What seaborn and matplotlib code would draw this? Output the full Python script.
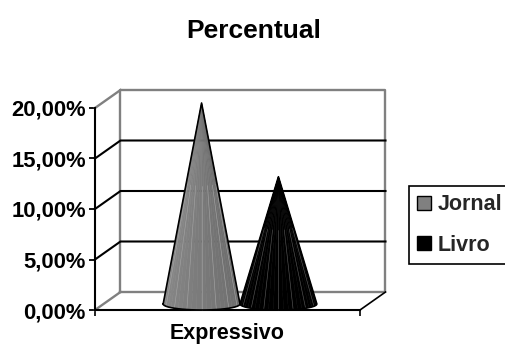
import numpy as np
import pandas as pd
import matplotlib
matplotlib.use("Agg")
import matplotlib.pyplot as plt
from matplotlib.patches import Patch, Polygon
import seaborn as sns

titulo = "Percentual"
categorias = ["Expressivo"]
series = ["Jornal", "Livro"]
valores = [19.9, 12.6]
y_ticks = [0, 5, 10, 15, 20]
cores = ["#808080", "#000000"]

sns.set_theme(style="white")
plt.rcParams["font.family"] = ["Liberation Sans", "DejaVu Sans"]
plt.rcParams["font.weight"] = "bold"

W, H = 506, 345
fig = plt.figure(figsize=(W / 100, H / 100), dpi=100)
ax = fig.add_axes([95 / W, 1 - 310 / H, 265 / W, 202 / H])

df = pd.DataFrame({"categoria": categorias * 2, "serie": series, "valor": valores})
sns.barplot(data=df, x="categoria", y="valor", hue="serie", palette=cores,
            width=0.58, legend=False, ax=ax)
ax.set_xlim(-0.5, 0.5)
ax.set_ylim(0, 20)

# px to data units
px_x = 1 / 265
px_y = 20 / 202
dx = 25.5 * px_x
dy = 18 * px_y
wall = "#808080"


def linha(xs, ys, cor="black", lw=1.5, z=2):
    ax.plot(xs, ys, color=cor, lw=lw, clip_on=False, zorder=z, solid_capstyle="projecting")


# back wall and floor
linha([-0.5 + dx, -0.5 + dx, 0.5 + dx, 0.5 + dx, -0.5 + dx],
      [dy, 20 + dy, 20 + dy, dy, dy], wall, 1.7)
linha([-0.5, -0.5 + dx], [20, 20 + dy], wall, 1.7)
linha([-0.5, -0.5 + dx], [0, dy], wall, 1.7)
linha([0.5, 0.5 + dx], [0, dy], "black", 1.2)
for v in y_ticks[1:-1]:
    linha([-0.5, -0.5 + dx, 0.5 + dx], [v, v + dy, v + dy])


def cone(bar, cor, risco):
    # takes position, width and height from the seaborn bar
    cx = bar.get_x() + bar.get_width() / 2 + 12.5 * px_x
    a = bar.get_width() / 2
    base = 6 * px_y
    b = 6 * px_y
    topo = bar.get_height() + base
    t = np.linspace(np.pi, 2 * np.pi, 25)
    xs = cx + a * np.cos(t)
    ys = base + b * np.sin(t)
    rgb = np.array(matplotlib.colors.to_rgb(cor))
    for i in range(len(t) - 1):
        f = 1.08 - 0.25 * i / (len(t) - 2)
        c = np.clip(rgb * f, 0, 1)
        ax.add_patch(Polygon([(cx, topo), (xs[i], ys[i]), (xs[i + 1], ys[i + 1])],
                             facecolor=c, edgecolor=c, linewidth=0.4,
                             clip_on=False, zorder=3))
    for i in range(3, len(t) - 1, 3):
        ax.plot([cx + (xs[i] - cx) * 0.4, xs[i]], [topo + (ys[i] - topo) * 0.4, ys[i]],
                color=risco, lw=0.45, clip_on=False, zorder=4)
    ax.plot(list(xs) + [cx, xs[0]], list(ys) + [topo, ys[0]], color="black", lw=1.2,
            clip_on=False, zorder=5, solid_joinstyle="round")


for bar, cor, risco in zip(ax.patches, cores, ["#a0a0a0", "#505050"]):
    cone(bar, cor, risco)
    bar.set_visible(False)

# axes
sns.despine(ax=ax, top=True, right=True)
for lado in ["left", "bottom"]:
    ax.spines[lado].set_color("black")
    ax.spines[lado].set_linewidth(1.5)
ax.set_yticks(y_ticks)
ax.set_yticklabels([f"{v:.2f}%".replace(".", ",") for v in y_ticks], fontsize=15.8, fontweight="bold")
ax.tick_params(axis="y", length=4, width=1.3, color="black", left=True, pad=2.5, labelcolor="black")
ax.set_xticks([0])
ax.set_xticklabels(categorias, fontsize=15.5, fontweight="bold", color="black")
ax.set_xticks([-0.5, 0.5], minor=True)
ax.tick_params(axis="x", which="major", length=0, pad=9.5)
ax.tick_params(axis="x", which="minor", length=4, width=1.2, color="black", bottom=True)
ax.set_xlabel("")
ax.set_ylabel("")

fig.text(254 / W, 1 - 31 / H, titulo, fontsize=19, fontweight="bold", color="black",
         ha="center", va="center")

handles = [Patch(facecolor=c, edgecolor="black", linewidth=1.0, label=s) for c, s in zip(cores, series)]
leg = fig.legend(handles=handles, loc="upper left", bbox_to_anchor=(409 / W, 1 - 186 / H),
                 bbox_transform=fig.transFigure, prop={"size": 15.5, "weight": "bold"},
                 frameon=True, fancybox=False, edgecolor="black", framealpha=1,
                 handlelength=0.62, handleheight=0.62, handletextpad=0.32, labelspacing=0.9,
                 borderpad=0.38, borderaxespad=0)
leg.get_frame().set_linewidth(1.2)

fig.savefig("out.png", dpi=100)
